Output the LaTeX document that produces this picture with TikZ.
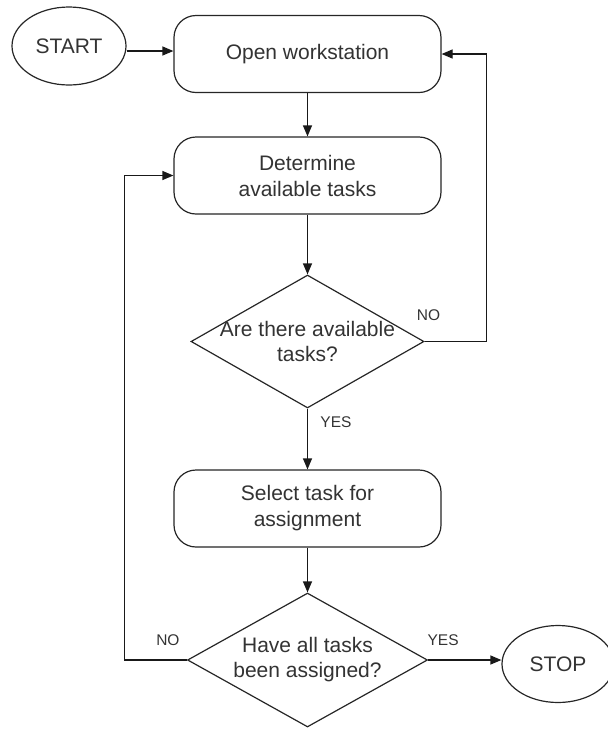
\documentclass[tikz,border=0pt]{standalone}
\usepackage{fontspec}
\setmainfont{Liberation Sans}
\usetikzlibrary{shapes.geometric,arrows.meta}
\tikzstyle{process}=[draw=black!85, line width=1.2pt, rounded corners=22pt, fill=white, minimum width=267pt, minimum height=77pt, align=center, text=black!80, font=\fontsize{21}{26}\selectfont]
\tikzstyle{decision}=[draw=black!85, line width=1.2pt, diamond, inner sep=0pt, fill=white]
\tikzstyle{terminal}=[draw=black!85, line width=1.2pt, ellipse, minimum width=114pt, minimum height=78pt, text=black!80, font=\fontsize{21}{26}\selectfont]
\tikzstyle{flow}=[line width=1.2pt, draw=black!90, -{Triangle[length=11pt,width=9pt]}]
\tikzstyle{answer}=[inner sep=0pt, text=black!80, font=\fontsize{15.5}{18}\selectfont]
\tikzstyle{asktext}=[align=center, text=black!80, font=\fontsize{21}{25}\selectfont]

\begin{document}
\begin{tikzpicture}[x=1pt,y=-1pt]
	\useasboundingbox (0,0) rectangle (608,729);
	% boxes
	\node[terminal] (start) at (69,46) {START};
	\node[process] (open) at (307.5,54) {Open workstation};
	\node[process] (determine) at (307.5,175.5) {Determine\\available tasks};
	\node[decision, minimum width=233pt, minimum height=133pt, label={[asktext]center:Are there available\\tasks?}] (avail) at (307.5,341.5) {};
	\node[process] (select) at (307.5,508.5) {Select task for\\assignment};
	\node[decision, minimum width=240pt, minimum height=134pt, label={[asktext]center:Have all tasks\\been assigned?}] (alldone) at (307.5,660) {};
	\node[terminal, minimum width=112pt, minimum height=77pt] (stop) at (558,664) {STOP};
	% arrows
	\draw[flow] ([yshift=-5pt]start.east) -- ([yshift=-5pt]start.east -| open.west);
	\draw[flow] (open) -- (determine);
	\draw[flow] (determine) -- (avail);
	\draw[flow] (avail.east) -| ([xshift=45pt]open.east) -- (open.east); %no
	\draw[flow] (avail) -- (select); %yes
	\draw[flow] (select) -- (alldone);
	\draw[flow] (alldone.east) -- (alldone.east -| stop.west); %yes
	\draw[flow] (alldone.west) -| ([xshift=-49pt]determine.west) -- (determine.west); %no
	% answers
	\node[answer] (no1) at ([shift={(4,-26)}]avail.east) {NO};
	\node[answer] (yes1) at ([shift={(28.5,14)}]avail.south) {YES};
	\node[answer] (no2) at ([shift={(-19,-20)}]alldone.west) {NO};
	\node[answer] (yes2) at ([shift={(15,-20)}]alldone.east) {YES};
\end{tikzpicture}
\end{document}
